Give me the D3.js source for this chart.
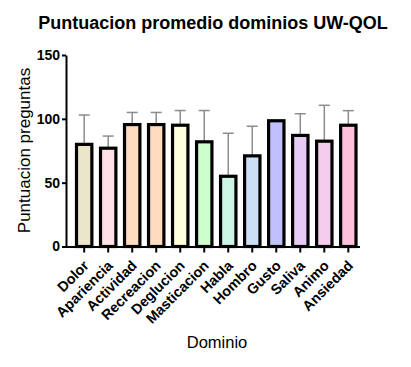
<!DOCTYPE html>
<html>
<head>
<meta charset="utf-8">
<script src="https://cdn.jsdelivr.net/npm/d3@7"></script>
<style>
  body { margin: 0; background: #fff; }
  svg { font-family: "Liberation Sans", Arial, sans-serif; }
</style>
</head>
<body>
<svg id="chart" width="411" height="367"></svg>
<script>
var dominios = ["Dolor", "Apariencia", "Actividad", "Recreacion", "Deglucion", "Masticacion",
  "Habla", "Hombro", "Gusto", "Saliva", "Animo", "Ansiedad"];
var medias = [80, 77, 95.5, 95.5, 95, 82, 55, 71, 98.5, 87, 82.5, 95];
var errorSup = [103, 86.5, 105, 105, 106.5, 106.5, 88.7, 94.2, 98.5, 104, 110.6, 106.4];
var colores = ["#ebe5cc", "#ffe0e6", "#ffdcc0", "#ffdcc0", "#ffffdc", "#ccffcc",
  "#ccf5e6", "#cce0f5", "#c0c0ff", "#e6ccf5", "#f5ccee", "#ffc0dc"];
var yTicks = [0, 50, 100, 150];

var svg = d3.select("#chart");

var x = d3.scaleBand()
  .domain(dominios)
  .range([76.5, 356])
  .paddingInner(0.36)
  .paddingOuter(0);

var y = d3.scaleLinear()
  .domain([0, 150])
  .range([246.5, 55]);

// error bars (drawn first, bar covers the lower part)
var err = svg.append("g").attr("class", "errors");
dominios.forEach(function(d, i) {
  if (errorSup[i] <= medias[i]) return;
  var cx = x(d) + x.bandwidth() / 2;
  err.append("line")
    .attr("x1", cx).attr("x2", cx)
    .attr("y1", y(medias[i])).attr("y2", y(errorSup[i]))
    .attr("stroke", "#8c8c8c").attr("stroke-width", 1.5);
  err.append("line")
    .attr("x1", cx - 5.5).attr("x2", cx + 5.5)
    .attr("y1", y(errorSup[i])).attr("y2", y(errorSup[i]))
    .attr("stroke", "#8c8c8c").attr("stroke-width", 1.5);
});

svg.append("g").selectAll("rect")
  .data(dominios)
  .enter()
  .append("rect")
  .attr("x", function(d) { return x(d); })
  .attr("y", function(d, i) { return y(medias[i]); })
  .attr("width", x.bandwidth())
  .attr("height", function(d, i) { return y(0) - y(medias[i]); })
  .attr("fill", function(d, i) { return colores[i]; })
  .attr("stroke", "#000")
  .attr("stroke-width", 3.2);

// y axis
var yAxis = svg.append("g")
  .attr("transform", "translate(66,0)")
  .call(d3.axisLeft(y).tickValues(yTicks).tickSize(4).tickPadding(2).tickSizeOuter(0));
yAxis.select(".domain").attr("stroke-width", 2);
yAxis.selectAll(".tick line").attr("stroke-width", 2);
yAxis.selectAll(".tick text")
  .attr("font-size", 14).attr("font-weight", "bold").attr("fill", "#000")
  .attr("font-family", "Liberation Sans, Arial, sans-serif");

// x axis
var xAxis = svg.append("g")
  .attr("transform", "translate(0," + y(0) + ")")
  .call(d3.axisBottom(x).tickSize(6).tickSizeOuter(0));
xAxis.select(".domain").attr("d", "M65,0.5H360").attr("stroke-width", 2);
xAxis.selectAll(".tick line").attr("stroke-width", 2);
xAxis.selectAll(".tick text")
  .attr("font-size", 14.3).attr("font-weight", "bold").attr("fill", "#000")
  .attr("font-family", "Liberation Sans, Arial, sans-serif")
  .attr("text-anchor", "end")
  .attr("dy", "0.35em")
  .attr("transform", "translate(2,16.5) rotate(-45)")
  .attr("y", 0).attr("x", 0);

svg.append("text")
  .attr("x", 213).attr("y", 28.5)
  .attr("text-anchor", "middle")
  .attr("font-size", 18).attr("font-weight", "bold")
  .text("Puntuacion promedio dominios UW-QOL");

svg.append("text")
  .attr("transform", "translate(30,150.5) rotate(-90)")
  .attr("text-anchor", "middle")
  .attr("font-size", 17)
  .text("Puntuacion preguntas");

svg.append("text")
  .attr("x", 217).attr("y", 348)
  .attr("text-anchor", "middle")
  .attr("font-size", 16.5)
  .text("Dominio");
</script>
</body>
</html>
